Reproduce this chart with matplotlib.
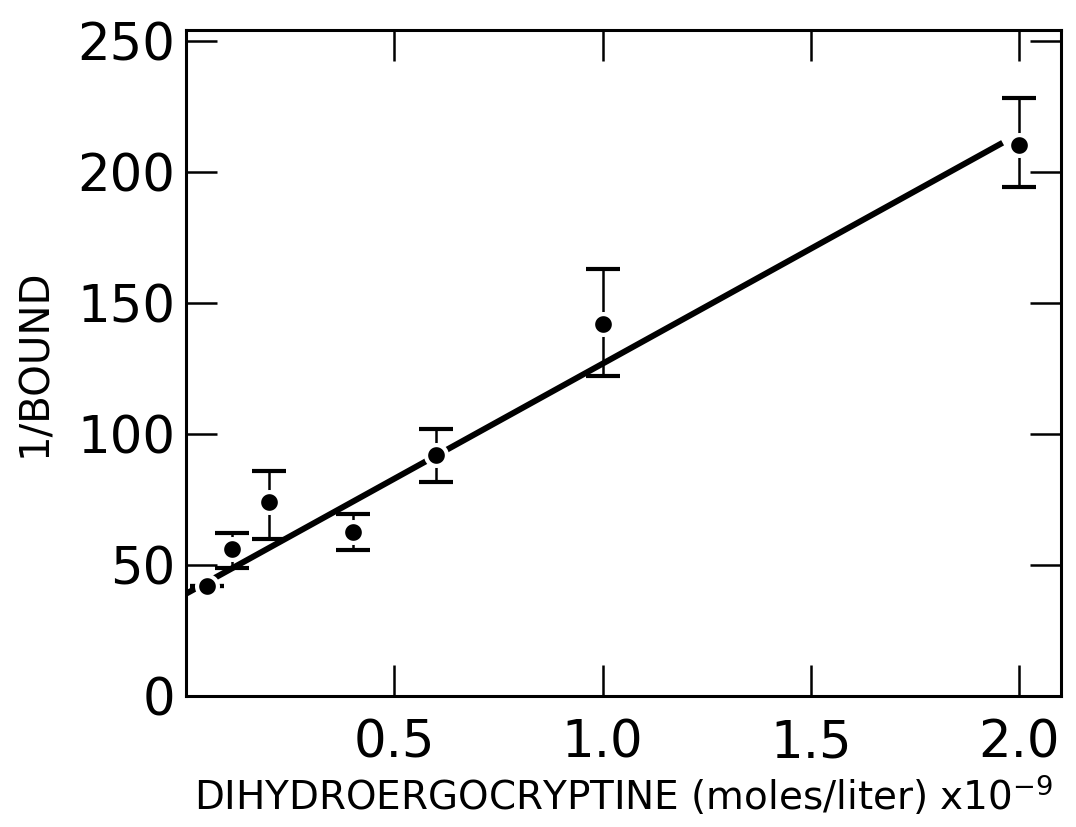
import matplotlib
matplotlib.use("Agg")
import matplotlib.pyplot as plt
import numpy as np

# Data
conc = [0.05, 0.11, 0.20, 0.40, 0.60, 1.00, 2.00]          # x 10^-9 moles/liter
inv_bound = [42, 56, 74, 62.5, 92, 142, 210]
err_low = [0, 7, 14, 7, 10.5, 20, 16]
err_high = [0, 6, 12, 7, 10, 21, 18]

fit_x = [0.0, 1.96]
fit_y = [39.0, 211]

xticks = [0.5, 1.0, 1.5, 2.0]
xtick_labels = ["0.5", "1.0", "1.5", "2.0"]
yticks = [0, 50, 100, 150, 200, 250]
ytick_labels = ["0", "50", "100", "150", "200", "250"]

plt.rcParams['font.family'] = ['DejaVu Sans']
plt.rcParams['mathtext.fontset'] = 'dejavusans'

fig = plt.figure(figsize=(10.76, 8.27), dpi=100)
ax = fig.add_axes([0.1729, 0.1584, 0.8131, 0.8053])

ax.plot(fit_x, fit_y, color='black', lw=4.3, solid_capstyle='butt', zorder=2)
ax.errorbar(conc, inv_bound, yerr=[err_low, err_high], fmt='o', color='black',
            ms=15, mec='white', mew=3, elinewidth=1.8, capsize=12, capthick=1.8,
            zorder=3)

ax.set_xlim(0, 2.1)
ax.set_ylim(0, 254)
ax.set_xticks(xticks)
ax.set_xticklabels(xtick_labels)
ax.set_yticks(yticks)
ax.set_yticklabels(ytick_labels)

ax.tick_params(direction='in', length=22, width=1.8, top=True, right=True,
               labelsize=37, pad=16)
ax.tick_params(axis='y', pad=8)
for sp in ax.spines.values():
    sp.set_linewidth(2.2)

ax.set_xlabel(r"DIHYDROERGOCRYPTINE (moles/liter) x10$^{-9}$", fontsize=28,
              labelpad=4)
ax.set_ylabel("1/BOUND", fontsize=29, labelpad=16)

fig.savefig("out.png", dpi=100)
